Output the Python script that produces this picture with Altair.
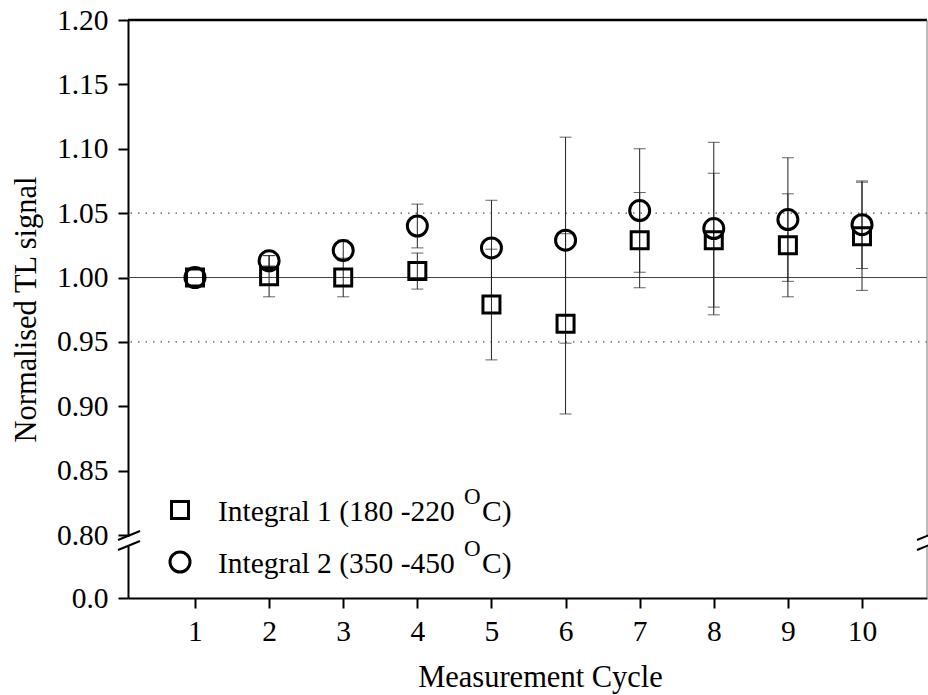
import altair as alt
import pandas as pd

# ---- data ----
cycles = [1, 2, 3, 4, 5, 6, 7, 8, 9, 10]
int1_mean = [1.000, 1.001, 1.000, 1.005, 0.979, 0.964, 1.029, 1.029, 1.025, 1.032]
int1_err = [0.000, 0.016, 0.015, 0.014, 0.043, 0.070, 0.037, 0.052, 0.040, 0.042]
int2_mean = [1.000, 1.013, 1.021, 1.040, 1.023, 1.029, 1.052, 1.038, 1.045, 1.041]
int2_err = [0.000, 0.004, 0.008, 0.017, 0.037, 0.080, 0.048, 0.067, 0.048, 0.034]
series_names = ["Integral 1 (180 -220", "Integral 2 (350 -450"]
ref_solid = [1.00]
ref_dotted = [0.95, 1.05]
y_ticks = [0.0, 0.80, 0.85, 0.90, 0.95, 1.00, 1.05, 1.10, 1.15, 1.20]
x_ticks = cycles

W, H = 799, 578
FONT = "Liberation Serif"
FS = 29.5
TFS = 30.5

rows = []
for c, m, e in zip(cycles, int1_mean, int1_err):
    rows.append({"cycle": c, "mean": m, "lo": m - e, "hi": m + e, "err": e, "series": "s1"})
for c, m, e in zip(cycles, int2_mean, int2_err):
    rows.append({"cycle": c, "mean": m, "lo": m - e, "hi": m + e, "err": e, "series": "s2"})
df = pd.DataFrame(rows)

xs = alt.Scale(domain=[0.096, 10.877], nice=False, zero=False)
ys = alt.Scale(domain=[0, 0.8, 1.2], range=[H, 515, 0], nice=False, zero=False)

xaxis = alt.Axis(values=x_ticks, format="d", title="Measurement Cycle", grid=False,
                 tickSize=10, tickWidth=2, tickColor="black",
                 domainWidth=2, domainColor="black",
                 labelFont=FONT, labelFontSize=FS, labelColor="black",
                 labelBaseline="alphabetic", labelPadding=32, labelAngle=0,
                 titleFont=FONT, titleFontSize=TFS, titleFontWeight="normal", titleColor="black",
                 titleX=412, titleY=88, titleAlign="center", titleBaseline="alphabetic")
yaxis = alt.Axis(values=y_ticks, title="Normalised TL signal", grid=False,
                 tickSize=10, tickWidth=2, tickColor="black",
                 domainWidth=2, domainColor="black",
                 labelFont=FONT, labelFontSize=FS, labelColor="black", labelPadding=10,
                 labelExpr="datum.value == 0 ? '0.0' : format(datum.value, '.2f')",
                 titleFont=FONT, titleFontSize=TFS, titleFontWeight="normal", titleColor="black",
                 titleAngle=-90, titleX=-93, titleY=289, titleAlign="center", titleBaseline="alphabetic")

base = alt.Chart(df)

# reference lines
solid = alt.Chart(pd.DataFrame({"v": ref_solid})).mark_rule(color="#444", strokeWidth=1).encode(
    y=alt.Y("v:Q", scale=ys, axis=yaxis))
dotted = alt.Chart(pd.DataFrame({"v": ref_dotted})).mark_rule(
    color="#555", strokeWidth=1.2, strokeDash=[1.5, 6]).encode(y=alt.Y("v:Q", scale=ys))

errs = base.transform_filter("datum.err > 0")
err_rule = errs.mark_rule(color="#222", strokeWidth=1).encode(
    x=alt.X("cycle:Q", scale=xs, axis=xaxis), y=alt.Y("lo:Q", scale=ys), y2="hi:Q")
cap_lo = errs.mark_tick(orient="horizontal", size=12, thickness=1, color="#222").encode(
    x=alt.X("cycle:Q", scale=xs), y=alt.Y("lo:Q", scale=ys))
cap_hi = errs.mark_tick(orient="horizontal", size=12, thickness=1, color="#222").encode(
    x=alt.X("cycle:Q", scale=xs), y=alt.Y("hi:Q", scale=ys))

SQ_SIZE, CI_SIZE = 289, 400
sq = base.transform_filter("datum.series == 's1'").mark_point(
    shape="square", size=SQ_SIZE, strokeWidth=3, color="black", filled=False, opacity=1).encode(
    x=alt.X("cycle:Q", scale=xs), y=alt.Y("mean:Q", scale=ys))
ci = base.transform_filter("datum.series == 's2'").mark_point(
    shape="circle", size=CI_SIZE, strokeWidth=3, color="black", filled=False, opacity=1).encode(
    x=alt.X("cycle:Q", scale=xs), y=alt.Y("mean:Q", scale=ys))

one = pd.DataFrame({"k": [0]})
# frame: top and right borders
top_border = alt.Chart(one).mark_rule(color="black", strokeWidth=2.5).encode(
    x=alt.value(0), x2=alt.value(W), y=alt.value(0))
right_border = alt.Chart(one).mark_rule(color="#777", strokeWidth=1).encode(
    x=alt.value(W), y=alt.value(0), y2=alt.value(H))

# axis break marks
gap_l = alt.Chart(one).mark_rect(color="white").encode(
    x=alt.value(-2), x2=alt.value(2), y=alt.value(517), y2=alt.value(525))
gap_r = alt.Chart(one).mark_rect(color="white").encode(
    x=alt.value(W - 2), x2=alt.value(W + 2), y=alt.value(517), y2=alt.value(525))
brk = []
for x0 in [-10, W - 10]:
    for dy in [0, 10]:
        brk.append(alt.Chart(one).mark_rule(color="black", strokeWidth=2).encode(
            x=alt.value(x0), x2=alt.value(x0 + 22), y=alt.value(520 + dy), y2=alt.value(511 + dy)))

# manual legend
leg = []
leg.append(alt.Chart(one).mark_point(shape="square", size=SQ_SIZE, strokeWidth=3, color="black",
                                     filled=False, opacity=1).encode(x=alt.value(52), y=alt.value(490)))
leg.append(alt.Chart(one).mark_point(shape="circle", size=CI_SIZE, strokeWidth=3, color="black",
                                     filled=False, opacity=1).encode(x=alt.value(52), y=alt.value(542)))
for i, name in enumerate(series_names):
    by = 501 + 52 * i
    leg.append(alt.Chart(pd.DataFrame({"t": [name]})).mark_text(
        font=FONT, fontSize=29.5, align="left", baseline="alphabetic", color="black").encode(
        text="t:N", x=alt.value(90), y=alt.value(by)))
    leg.append(alt.Chart(pd.DataFrame({"t": ["O"]})).mark_text(
        font=FONT, fontSize=23, align="left", baseline="alphabetic", color="black").encode(
        text="t:N", x=alt.value(336), y=alt.value(by - 17)))
    leg.append(alt.Chart(pd.DataFrame({"t": ["C)"]})).mark_text(
        font=FONT, fontSize=29.5, align="left", baseline="alphabetic", color="black").encode(
        text="t:N", x=alt.value(354), y=alt.value(by)))

chart = alt.layer(
    solid, dotted, err_rule, cap_lo, cap_hi, sq, ci, top_border, right_border,
    gap_l, gap_r, *brk, *leg
).properties(
    width=W, height=H,
    autosize=alt.AutoSizeParams(type="none"),
    padding={"left": 128, "top": 20, "right": 1, "bottom": 97},
    background="white",
).configure_view(stroke=None)

chart.save("out.html", embed_options={"renderer": "svg", "actions": False})
